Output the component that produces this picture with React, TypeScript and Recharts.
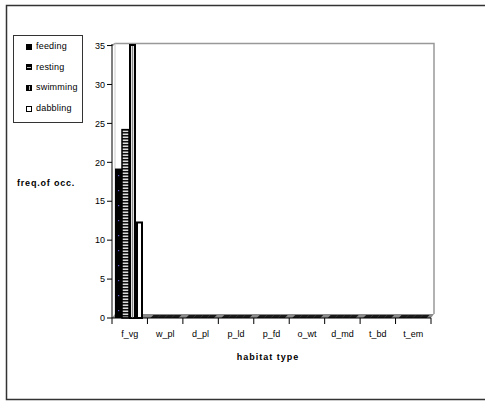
import React from "react"
import {
  BarChart,
  Bar,
  XAxis,
  YAxis,
  ReferenceArea,
} from "recharts"

const habitats = ["f_vg", "w_pl", "d_pl", "p_ld", "p_fd", "o_wt", "d_md", "t_bd", "t_em"]
const feeding = [19.2, 0, 0, 0, 0, 0, 0, 0, 0]
const resting = [24.2, 0, 0, 0, 0, 0, 0, 0, 0]
const swimming = [35.2, 0, 0, 0, 0, 0, 0, 0, 0]
const dabbling = [12.4, 0, 0, 0, 0, 0, 0, 0, 0]
const yTicks = [0, 5, 10, 15, 20, 25, 30, 35]

const W = 489
const H = 402
const X_AXIS_H = 30
const M = { top: 44, right: 58, bottom: 84 - X_AXIS_H, left: 0 }
const Y_AXIS_W = 112
const PLOT_L = M.left + Y_AXIS_W
const PLOT_W = W - M.right - PLOT_L
const PLOT_B = H - M.bottom - X_AXIS_H
const BAND = PLOT_W / habitats.length
const DEPTH = 3
const FONT = "'Liberation Sans', Arial, sans-serif"

const data = habitats.map((h, i) => ({
  habitat: h,
  feeding: feeding[i],
  resting: resting[i],
  swimming: swimming[i],
  dabbling: dabbling[i],
}))

// zero-height bars show up as a dark slab lying on the floor
function floorSlab(x: number, y: number, w: number) {
  return (
    <polygon
      points={`${x},${y} ${x + w},${y} ${x + w + DEPTH},${y - DEPTH} ${x + DEPTH},${y - DEPTH}`}
      fill="#1a1a1a"
    />
  )
}

const FeedingShape = (p: any) => {
  const { x, y, width, height } = p
  if (!height) return floorSlab(x, y, width)
  const dots = []
  for (let dy = 8; dy < height - 4; dy += 15) {
    dots.push(<rect key={dy} x={x + width / 2 - 0.5} y={y + height - dy} width={1.2} height={1.2} fill="#5a5ad0" />)
  }
  return (
    <g>
      <rect x={x} y={y} width={width} height={height} fill="#000" />
      {dots}
    </g>
  )
}

const RestingShape = (p: any) => {
  const { x, y, width, height } = p
  if (!height) return floorSlab(x, y, width)
  return <rect x={x} y={y} width={width} height={height} fill="url(#hstripe)" stroke="#000" strokeWidth={1.5} />
}

const SwimmingShape = (p: any) => {
  const { x, y, width, height } = p
  if (!height) return floorSlab(x, y, width)
  return (
    <g>
      <rect x={x + 1} y={y + 1} width={width - 2} height={height - 1} fill="#fff" stroke="#000" strokeWidth={2} />
      <line x1={x + width / 2} y1={y + 2} x2={x + width / 2} y2={y + height} stroke="#888" strokeWidth={1.5} />
    </g>
  )
}

const DabblingShape = (p: any) => {
  const { x, y, width, height } = p
  if (!height) return floorSlab(x, y, width)
  return <rect x={x + 1} y={y + 1} width={width - 2} height={height - 1} fill="#fff" stroke="#000" strokeWidth={2} />
}

// back wall + floor of the pseudo-3D plot box
const WallShape = (p: any) => {
  const { x, y, width, height } = p
  const b = y + height
  return (
    <g>
      <polyline
        points={`${x},${y} ${x + DEPTH},${y - 2} ${x + width + DEPTH},${y - 2} ${x + width + DEPTH},${b - DEPTH - 1}`}
        fill="none"
        stroke="#999"
        strokeWidth={1.5}
      />
      <line x1={x + DEPTH} y1={y - 2} x2={x + DEPTH} y2={b - DEPTH} stroke="#ccc" strokeWidth={1} />
      <polygon
        points={`${x},${b} ${x + width},${b} ${x + width + DEPTH},${b - DEPTH - 1} ${x + DEPTH},${b - DEPTH - 1}`}
        fill="#8a8a8a"
      />
    </g>
  )
}

const HabitatTick = (p: any) => {
  const { x, payload } = p
  const last = payload.index === habitats.length - 1
  return (
    <g>
      <line x1={x - BAND / 2} y1={PLOT_B} x2={x - BAND / 2} y2={PLOT_B + 6} stroke="#000" />
      {last && <line x1={x + BAND / 2} y1={PLOT_B} x2={x + BAND / 2} y2={PLOT_B + 6} stroke="#000" />}
      <text x={x} y={PLOT_B + 19} textAnchor="middle" fontSize={9} fontFamily={FONT} fill="#000">
        {payload.value}
      </text>
    </g>
  )
}

const iconBase: React.CSSProperties = {
  width: 6,
  height: 6,
  boxSizing: "border-box",
  marginRight: 4,
  flex: "none",
  position: "relative",
}

const legendItems = [
  { name: "feeding", icon: <div style={{ ...iconBase, background: "#000" }} /> },
  {
    name: "resting",
    icon: (
      <div style={{ ...iconBase, background: "#000" }}>
        <div style={{ position: "absolute", left: 1, top: 2.5, width: 4, height: 1, background: "#bbb" }} />
      </div>
    ),
  },
  {
    name: "swimming",
    icon: (
      <div style={{ ...iconBase, background: "#000" }}>
        <div style={{ position: "absolute", left: 2.5, top: 1, width: 1, height: 4, background: "#bbb" }} />
      </div>
    ),
  },
  { name: "dabbling", icon: <div style={{ ...iconBase, background: "#fff", border: "1.6px solid #000" }} /> },
]

const LegendBox = () => (
  <div
    style={{
      position: "absolute",
      left: 13,
      top: 35,
      width: 70,
      height: 88,
      border: "1px solid #333",
      background: "#fff",
      boxSizing: "border-box",
      paddingTop: 0.5,
      fontFamily: FONT,
      fontSize: 9,
      lineHeight: 1,
    }}
  >
    {legendItems.map((it) => (
      <div key={it.name} style={{ display: "flex", alignItems: "center", height: 20.6, paddingLeft: 12 }}>
        {it.icon}
        <span style={{ letterSpacing: 0.2 }}>{it.name}</span>
      </div>
    ))}
  </div>
)

// outer frame: open on the right-hand side
const Frame = () => (
  <svg width={W} height={H} style={{ position: "absolute", left: 0, top: 0 }}>
    <polyline points={`${W - 4},5.5 6.5,5.5 6.5,399.5 ${W - 4},399.5`} fill="none" stroke="#333" strokeWidth={1.5} />
  </svg>
)

export default function App() {
  return (
    <div style={{ position: "absolute", left: 0, top: 0, width: W, height: H, background: "#fff", overflow: "hidden" }}>
      <Frame />
      <BarChart
        width={W}
        height={H}
        data={data}
        margin={M}
        barCategoryGap={3}
        barGap={0}
        style={{ position: "absolute", left: 0, top: 0 }}
      >
        <defs>
          <pattern id="hstripe" patternUnits="userSpaceOnUse" width={4} height={3}>
            <rect width={4} height={3} fill="#ddd" />
            <rect width={4} height={1.5} fill="#111" />
          </pattern>
        </defs>
        <ReferenceArea y1={0} y2={35} shape={WallShape} ifOverflow="visible" />
        <XAxis
          dataKey="habitat"
          height={X_AXIS_H}
          axisLine={{ stroke: "#000" }}
          tickLine={false}
          tick={HabitatTick}
          interval={0}
          label={{
            content: () => (
              <text x={268} y={360} textAnchor="middle" fontSize={9} fontWeight="bold" letterSpacing={1} fontFamily={FONT}>
                habitat type
              </text>
            ),
          }}
        />
        <YAxis
          width={Y_AXIS_W}
          domain={[0, 35]}
          ticks={yTicks}
          interval={0}
          axisLine={{ stroke: "#000" }}
          tickLine={{ stroke: "#000" }}
          tickSize={5}
          tickMargin={2}
          tick={{ fontSize: 9, fill: "#000", fontFamily: FONT }}
          label={{
            content: () => (
              <text x={17} y={186} fontSize={9} fontWeight="bold" letterSpacing={0.8} fontFamily={FONT}>
                freq.of occ.
              </text>
            ),
          }}
        />
        <Bar dataKey="feeding" shape={FeedingShape} isAnimationActive={false} />
        <Bar dataKey="resting" shape={RestingShape} isAnimationActive={false} />
        <Bar dataKey="swimming" shape={SwimmingShape} isAnimationActive={false} />
        <Bar dataKey="dabbling" shape={DabblingShape} isAnimationActive={false} />
      </BarChart>
      <LegendBox />
    </div>
  )
}
